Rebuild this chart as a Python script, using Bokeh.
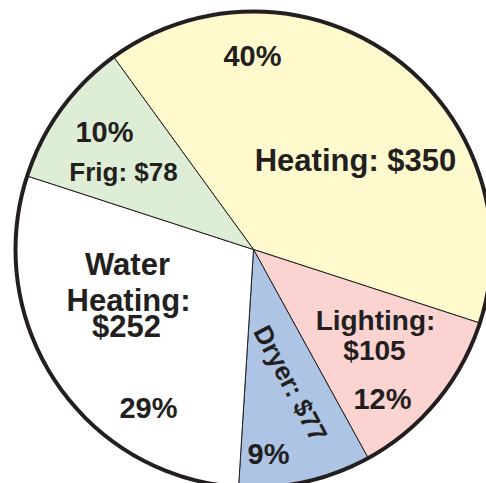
import math
from bokeh.plotting import figure
from bokeh.models import Range1d, ColumnDataSource
from bokeh.core.properties import value
from bokeh.embed import file_html
from bokeh.resources import INLINE

# ---- data ----
categories = ["Heating", "Lighting", "Dryer", "Water Heating", "Frig"]
costs = [350, 105, 77, 252, 78]
percents = [40, 12, 9, 29, 10]

# ---- style ----
colors = ["#fffacd", "#fbd4d2", "#adc4e5", "#ffffff", "#deedd5"]
ink = "#231f20"
font = value("Liberation Sans")
R = 238
start_deg = 126.0
dy = 12  # baseline correction

p = figure(width=486, height=483, output_backend="svg", toolbar_location=None,
           x_range=Range1d(-253, 233), y_range=Range1d(-234, 249),
           min_border=0, tools="")
p.axis.visible = False
p.grid.visible = False
p.outline_line_color = None
p.background_fill_color = "white"
p.border_fill_color = "white"

starts, ends = [], []
cum = 0.0
for pc in percents:
    s = start_deg - cum * 3.6
    cum += pc
    e = start_deg - cum * 3.6
    starts.append(math.radians(s))
    ends.append(math.radians(e))

src = ColumnDataSource(dict(cat=categories, cost=costs, pct=percents,
                            start=starts, end=ends, color=colors))
p.wedge(x=0, y=0, radius=R, start_angle="start", end_angle="end",
        direction="clock", fill_color="color", line_color=ink, line_width=1,
        source=src)
p.circle(x=0, y=0, radius=R, fill_color=None, line_color=ink, line_width=4)

def lab(x, y, txt, size, angle=0.0, baseline="alphabetic"):
    if baseline == "alphabetic":
        y = y + dy
    p.text(x=[x], y=[y], text=[txt], text_font=font, text_font_style="bold",
           text_font_size=f"{size}px", text_color=ink, text_align="center",
           text_baseline=baseline, angle=angle)

pct_txt = [f"{v}%" for v in percents]
name_txt = [f"{c}: ${v}" for c, v in zip(categories, costs)]

# Heating
lab(-1, 182, pct_txt[0], 29)
lab(102, 77, name_txt[0], 31)
# Lighting
lab(122, -83, f"{categories[1]}:", 28)
lab(121, -113, f"${costs[1]}", 28)
lab(129, -161, pct_txt[1], 29)
# Dryer
lab(37, -134, name_txt[2], 26, angle=math.radians(-62), baseline="middle")
lab(15, -216, pct_txt[2], 29)
# Water Heating
w1, w2 = categories[3].split(" ")
lab(-126, -27, w1, 31)
lab(-125, -63, f"{w2}:", 31)
lab(-127, -89, f"${costs[3]}", 31)
lab(-105, -170, pct_txt[3], 29)
# Frig
lab(-149, 106, pct_txt[4], 29)
lab(-130, 66, name_txt[4], 26)

open("out.html", "w").write(file_html(p, INLINE))
